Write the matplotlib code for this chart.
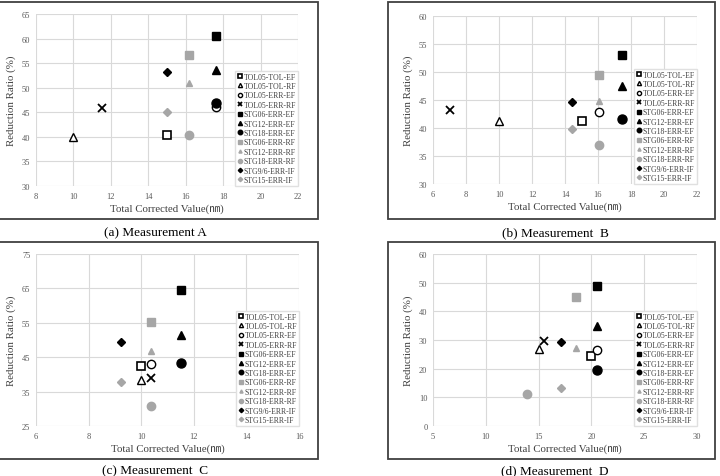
import matplotlib
matplotlib.use("Agg")
import matplotlib.pyplot as plt
from matplotlib.patches import Rectangle

plt.rcParams['font.family'] = ['Liberation Serif', 'Noto Sans CJK JP', 'DejaVu Sans']

series = ["TOL05-TOL-EF", "TOL05-TOL-RF", "TOL05-ERR-EF", "TOL05-ERR-RF",
          "STG06-ERR-EF", "STG12-ERR-EF", "STG18-ERR-EF",
          "STG06-ERR-RF", "STG12-ERR-RF", "STG18-ERR-RF",
          "STG9/6-ERR-IF", "STG15-ERR-IF"]

# (x, y) per series for each measurement
a_x = [15.0, 10.0, 17.6, 11.5, 17.6, 17.6, 17.6, 16.2, 16.2, 16.2, 15.0, 15.0]
a_y = [40.3, 40.0, 46.0, 45.8, 60.5, 53.6, 46.9, 56.7, 50.9, 40.3, 53.2, 45.0]
b_x = [15.0, 10.0, 16.05, 7.0, 17.45, 17.45, 17.45, 16.05, 16.05, 16.05, 14.4, 14.4]
b_y = [41.3, 41.3, 42.8, 43.3, 53.0, 47.5, 41.6, 49.4, 44.9, 37.0, 44.7, 39.8]
c_x = [10.0, 10.0, 10.38, 10.38, 11.5, 11.5, 11.5, 10.38, 10.38, 10.38, 9.24, 9.24]
c_y = [42.5, 38.3, 43.1, 39.0, 64.6, 51.5, 43.4, 55.2, 46.9, 30.8, 49.4, 37.8]
d_x = [20.0, 15.0, 20.5, 15.5, 20.5, 20.5, 20.5, 18.57, 18.57, 13.87, 17.15, 17.15]
d_y = [24.3, 26.9, 26.5, 29.6, 48.9, 34.8, 19.4, 45.1, 27.3, 11.0, 29.4, 13.3]

captions = ["(a) Measurement A", "(b) Measurement  B", "(c) Measurement  C", "(d) Measurement  D"]
xlims = [(8, 22), (6, 22), (6, 16), (5, 30)]
ylims = [(30, 65), (30, 60), (25, 75), (0, 60)]
xticks = [list(range(8, 23, 2)), list(range(6, 23, 2)), list(range(6, 17, 2)), list(range(5, 31, 5))]
yticks = [list(range(30, 66, 5)), list(range(30, 61, 5)), list(range(25, 76, 10)), list(range(0, 61, 10))]

GREY = '#a6a6a6'
styles = [
    dict(marker='s', mfc='white', mec='black', ms=5.5, mew=1.2),
    dict(marker='^', mfc='white', mec='black', ms=6, mew=1.0),
    dict(marker='o', mfc='white', mec='black', ms=6, mew=1.0),
    dict(marker='x', color='black', mec='black', ms=6, mew=1.3),
    dict(marker='s', mfc='black', mec='black', ms=6),
    dict(marker='^', mfc='black', mec='black', ms=6),
    dict(marker='o', mfc='black', mec='black', ms=6.5),
    dict(marker='s', mfc=GREY, mec=GREY, ms=6),
    dict(marker='^', mfc=GREY, mec=GREY, ms=4.5),
    dict(marker='o', mfc=GREY, mec=GREY, ms=6),
    dict(marker='D', mfc='black', mec='black', ms=4.5),
    dict(marker='D', mfc=GREY, mec=GREY, ms=4.5),
]

fig = plt.figure(figsize=(7.2, 4.77), dpi=100)

W, H = 720.0, 477.0
def fr(x0, y0, x1, y1):
    return [x0 / W, 1 - y1 / H, (x1 - x0) / W, (y1 - y0) / H]

frames = [(-1, 3, 318, 220), (388, 3, 715, 220), (-1, 243, 318, 460), (388, 243, 715, 460)]
axes_px = [(36, 15, 298, 187), (433, 17, 697, 185), (36, 255, 299, 427), (433, 255, 697, 427)]
cap_pos = [(155, 233), (555, 233), (155, 471), (555, 471)]
data = [(a_x, a_y), (b_x, b_y), (c_x, c_y), (d_x, d_y)]

for i in range(4):
    x0, y0, x1, y1 = frames[i]
    fig.patches.append(Rectangle((x0 / W, 1 - y1 / H), (x1 - x0) / W, (y1 - y0) / H,
                                 transform=fig.transFigure, fill=False,
                                 edgecolor='#404040', linewidth=1.3))
    ax = fig.add_axes(fr(*axes_px[i]))
    xs, ys = data[i]
    for j, name in enumerate(series):
        ax.plot([xs[j]], [ys[j]], linestyle='none', label=name, **styles[j])
    ax.set_xlim(*xlims[i])
    ax.set_ylim(*ylims[i])
    ax.set_xticks(xticks[i])
    ax.set_yticks(yticks[i])
    ax.grid(True, color='#d9d9d9', linewidth=0.8)
    ax.set_axisbelow(True)
    for s in ax.spines.values():
        s.set_visible(False)
    ax.tick_params(length=0, labelsize=6, labelcolor='#595959', pad=4)
    ax.set_xlabel("Total Corrected Value(㎚)", fontsize=7.8, color='#404040', labelpad=3)
    ax.set_ylabel("Reduction Ratio (%)", fontsize=7.8, color='#404040', labelpad=4)
    leg = ax.legend(loc='lower right', fontsize=5.6, markerscale=0.5, labelspacing=0.18,
                    handlelength=0.6, handletextpad=0.2, borderpad=0.25, borderaxespad=0.0,
                    fancybox=False, framealpha=1, edgecolor='#e0e0e0')
    for t in leg.get_texts():
        t.set_color('#404040')
    cx, cy = cap_pos[i]
    fig.text(cx / W, 1 - cy / H, captions[i], ha='center', va='center', fontsize=9.5, color='black')

fig.savefig("out.png", dpi=100)
